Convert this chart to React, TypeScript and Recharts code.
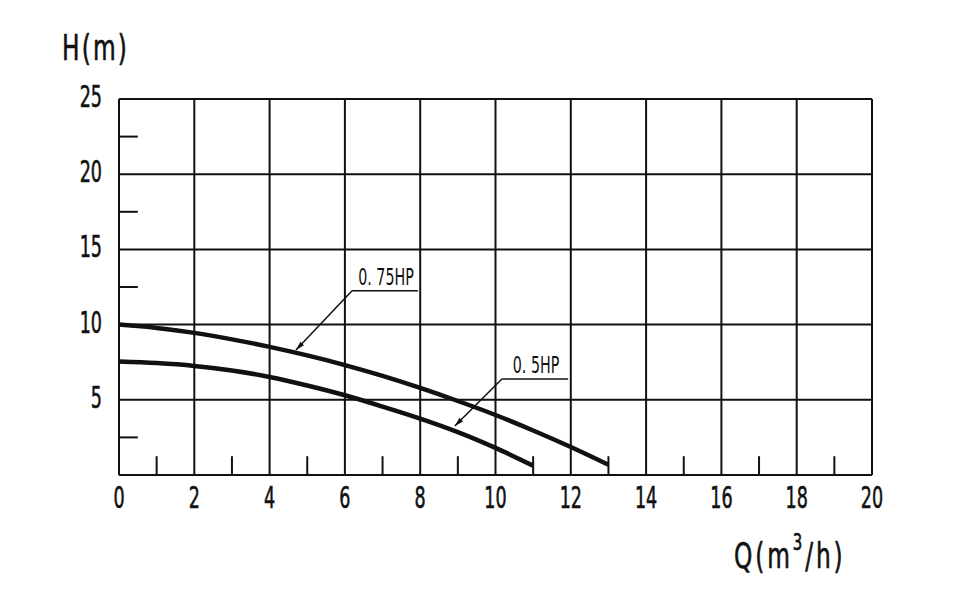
import React from "react"
import { LineChart, Line, XAxis, YAxis, CartesianGrid, ReferenceLine, Customized } from "recharts"

const flow = [0, 1, 2, 3, 4, 5, 6, 7, 8, 9, 10, 11, 12, 13]
const head075 = [10.0, 9.78, 9.45, 9.02, 8.52, 7.95, 7.31, 6.59, 5.79, 4.92, 3.99, 2.96, 1.86, 0.68]
const head05 = [7.55, 7.44, 7.25, 6.95, 6.52, 5.95, 5.3, 4.55, 3.75, 2.85, 1.8, 0.62]

const xTicks = [0, 2, 4, 6, 8, 10, 12, 14, 16, 18, 20]
const yTicks = [0, 5, 10, 15, 20, 25]
const xMinor = [1, 3, 5, 7, 9, 11, 13, 15, 17, 19]
const yMinor = [2.5, 7.5, 12.5, 17.5, 22.5]

// callout positions (text, underline ends, arrow tip) in data units
const callouts = [
  { text: "0. 75HP", y: 12.25, x1: 6.19, x2: 7.94, tipX: 4.7, tipY: 8.31 },
  { text: "0. 5HP", y: 6.38, x1: 10.17, x2: 11.93, tipX: 8.92, tipY: 3.26 },
]

const data = flow.map((q, i) => ({
  q,
  hp075: head075[i],
  hp05: i < head05.length ? head05[i] : null,
}))

const FONT = "'DejaVu Sans Condensed', 'DejaVu Sans', sans-serif"
const INK = "#111"

const YTick = (props: any) => {
  const { x, y, payload } = props
  if (payload.value === 0) return null
  return (
    <text transform={`translate(${x - 9},${y + 8}) scale(0.65,1)`} textAnchor="end"
      fontFamily={FONT} fontSize={30} fill={INK} stroke={INK} strokeWidth={0.6}>
      {payload.value}
    </text>
  )
}

const XTick = (props: any) => {
  const { x, y, payload } = props
  return (
    <text transform={`translate(${x},${y + 25}) scale(0.65,1)`} textAnchor="middle"
      fontFamily={FONT} fontSize={30} fill={INK} stroke={INK} strokeWidth={0.6}>
      {payload.value}
    </text>
  )
}

const Leader = (props: any) => {
  const { x1, y1, x2, y2 } = props
  const dx = x2 - x1
  const dy = y2 - y1
  const len = Math.sqrt(dx * dx + dy * dy)
  const ux = dx / len
  const uy = dy / len
  const bx = x2 - ux * 9
  const by = y2 - uy * 9
  const pts = `${x2},${y2} ${bx - uy * 2.5},${by + ux * 2.5} ${bx + uy * 2.5},${by - ux * 2.5}`
  return (
    <g>
      <line x1={x1} y1={y1} x2={x2} y2={y2} stroke={INK} strokeWidth={1.5} />
      <polygon points={pts} fill={INK} />
    </g>
  )
}

const Underline = (text: string) => (props: any) => {
  const { x1, y1, x2, y2 } = props
  const cx = (x1 + x2) / 2 + 1
  return (
    <g>
      <line x1={x1} y1={y1} x2={x2} y2={y2} stroke={INK} strokeWidth={1.5} />
      <text transform={`translate(${cx},${y1 - 6}) scale(0.69,1)`} textAnchor="middle"
        fontFamily={FONT} fontSize={23} fill={INK}>
        {text}
      </text>
    </g>
  )
}

const Titles = () => (
  <g fill={INK} stroke={INK} strokeWidth={0.6} fontFamily={FONT}>
    <text transform="translate(62,60) scale(0.72,1)" fontSize={36} letterSpacing={3}>H(m)</text>
    <text transform="translate(734,568) scale(0.72,1)" fontSize={36} letterSpacing={4}>
      Q(m<tspan dy={-18} fontSize={23}>3</tspan><tspan dy={18}>/h)</tspan>
    </text>
  </g>
)

export default function App() {
  return (
    <div style={{ position: "absolute", left: 0, top: 0, background: "#fff" }}>
      <LineChart width={957} height={598} data={data}
        margin={{ top: 99, right: 85, bottom: 83, left: 59 }}>
        <CartesianGrid stroke={INK} strokeWidth={2} />
        <XAxis dataKey="q" type="number" domain={[0, 20]} ticks={xTicks} height={40}
          tickLine={false} axisLine={{ stroke: INK, strokeWidth: 2 }} tick={<XTick />} interval={0} />
        <YAxis type="number" domain={[0, 25]} ticks={yTicks} width={60}
          tickLine={false} axisLine={{ stroke: INK, strokeWidth: 2 }} tick={<YTick />} interval={0} />
        {xMinor.map((v) => (
          <ReferenceLine key={"xm" + v} segment={[{ x: v, y: 0 }, { x: v, y: 1.25 }]}
            stroke={INK} strokeWidth={2} />
        ))}
        {yMinor.map((v) => (
          <ReferenceLine key={"ym" + v} segment={[{ x: 0, y: v }, { x: 0.5, y: v }]}
            stroke={INK} strokeWidth={2} />
        ))}
        <Line dataKey="hp075" type="monotone" stroke={INK} strokeWidth={4.5} dot={false}
          isAnimationActive={false} />
        <Line dataKey="hp05" type="monotone" stroke={INK} strokeWidth={4.5} dot={false}
          isAnimationActive={false} />
        {callouts.map((c) => (
          <ReferenceLine key={"u" + c.text} segment={[{ x: c.x1, y: c.y }, { x: c.x2, y: c.y }]}
            shape={Underline(c.text)} />
        ))}
        {callouts.map((c) => (
          <ReferenceLine key={"l" + c.text} segment={[{ x: c.x1, y: c.y }, { x: c.tipX, y: c.tipY }]}
            shape={Leader} />
        ))}
        <Customized component={<Titles />} />
      </LineChart>
    </div>
  )
}
